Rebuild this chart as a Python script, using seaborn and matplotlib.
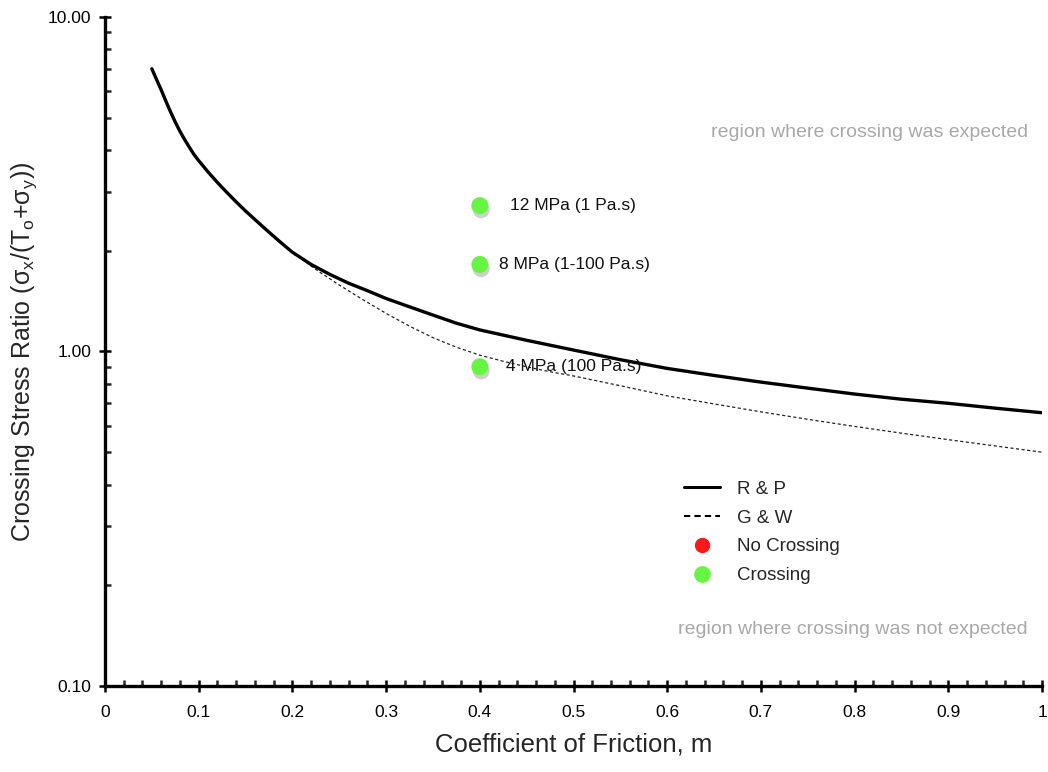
import numpy as np
import pandas as pd
import matplotlib
matplotlib.use("Agg")
import matplotlib.pyplot as plt
import matplotlib.patheffects as pe
from matplotlib.lines import Line2D
from matplotlib.ticker import FixedLocator, FixedFormatter, AutoMinorLocator, LogLocator, NullFormatter
import seaborn as sns

# ---- data ----
rp_mu = [0.05, 0.055, 0.06, 0.065, 0.07, 0.075, 0.08, 0.085, 0.09, 0.095, 0.10,
         0.11, 0.12, 0.13, 0.14, 0.15, 0.16, 0.17, 0.18, 0.19, 0.20,
         0.22, 0.24, 0.26, 0.28, 0.30, 0.325, 0.35, 0.375, 0.40, 0.45, 0.50,
         0.55, 0.60, 0.65, 0.70, 0.75, 0.80, 0.85, 0.90, 0.95, 1.00]
rp_ratio = [7.0, 6.5, 6.05, 5.6, 5.2, 4.85, 4.55, 4.3, 4.08, 3.88, 3.72,
            3.44, 3.2, 2.99, 2.8, 2.63, 2.48, 2.34, 2.21, 2.09, 1.98,
            1.82, 1.70, 1.60, 1.52, 1.44, 1.36, 1.285, 1.215, 1.16, 1.08, 1.01,
            0.945, 0.89, 0.848, 0.81, 0.777, 0.746, 0.72, 0.70, 0.677, 0.656]

gw_mu = [0.20, 0.21, 0.22, 0.23, 0.24, 0.25, 0.275, 0.30, 0.325, 0.35, 0.375,
         0.40, 0.425, 0.45, 0.475, 0.50, 0.55, 0.60, 0.65, 0.70, 0.75,
         0.80, 0.85, 0.90, 0.95, 1.00]
gw_ratio = [1.98, 1.89, 1.80, 1.72, 1.65, 1.58, 1.43, 1.30, 1.19, 1.10, 1.03,
            0.975, 0.935, 0.90, 0.87, 0.845, 0.79, 0.737, 0.697, 0.66, 0.627,
            0.597, 0.57, 0.545, 0.522, 0.50]

pt_mu = [0.4, 0.4, 0.4]
pt_ratio = [2.73, 1.82, 0.90]
pt_labels = ["12 MPa (1 Pa.s)", "8 MPa (1-100 Pa.s)", "4 MPa (100 Pa.s)"]

x_ticks = [0, 0.1, 0.2, 0.3, 0.4, 0.5, 0.6, 0.7, 0.8, 0.9, 1.0]
x_ticklabels = ["0", "0.1", "0.2", "0.3", "0.4", "0.5", "0.6", "0.7", "0.8", "0.9", "1"]
y_ticks = [0.1, 1.0, 10.0]
y_ticklabels = ["0.10", "1.00", "10.00"]

legend_labels = ["R & P", "G & W", "No Crossing", "Crossing"]

# ---- style ----
sns.set_style("ticks")
plt.rcParams["font.family"] = ["Liberation Sans", "DejaVu Sans"]
plt.rcParams["mathtext.fontset"] = "custom"
plt.rcParams["mathtext.rm"] = "Liberation Sans"
plt.rcParams["mathtext.it"] = "Liberation Sans"
plt.rcParams["mathtext.sf"] = "Liberation Sans"

GREEN = "#66f542"
RED = "#ff1a1a"

fig = plt.figure(figsize=(10.48, 7.72), dpi=100)
ax = fig.add_axes([0.1002, 0.1114, 0.8941, 0.8666])

rp = pd.DataFrame({"mu": rp_mu, "ratio": rp_ratio})
gw = pd.DataFrame({"mu": gw_mu, "ratio": gw_ratio})
pts = pd.DataFrame({"mu": pt_mu, "ratio": pt_ratio})

sns.lineplot(data=gw, x="mu", y="ratio", ax=ax, color="#222222", lw=0.9,
             linestyle=(0, (2.5, 2)), zorder=2)
sns.lineplot(data=rp, x="mu", y="ratio", ax=ax, color="black", lw=2.4, zorder=3)
sns.scatterplot(data=pts, x="mu", y="ratio", ax=ax, color=GREEN, s=150,
                edgecolor="none", zorder=5,
                path_effects=[pe.SimplePatchShadow(offset=(1.0, -3.0), shadow_rgbFace="#888888", alpha=0.4),
                              pe.Normal()])

offsets = [0.032, 0.021, 0.028]
for xv, yv, lab, dx in zip(pt_mu, pt_ratio, pt_labels, offsets):
    ax.text(xv + dx, yv, lab, fontsize=12.5, va="center", ha="left", color="#111111", zorder=6)

ax.text(0.985, 0.828, "region where crossing was expected", transform=ax.transAxes,
        ha="right", va="center", fontsize=14, color="#a8a8a8")
ax.text(0.985, 0.084, "region where crossing was not expected", transform=ax.transAxes,
        ha="right", va="center", fontsize=14, color="#a8a8a8")

ax.set_yscale("log")
ax.set_xlim(0, 1.0)
ax.set_ylim(0.1, 10)

ax.xaxis.set_major_locator(FixedLocator(x_ticks))
ax.xaxis.set_major_formatter(FixedFormatter(x_ticklabels))
ax.xaxis.set_minor_locator(AutoMinorLocator(5))
ax.yaxis.set_major_locator(FixedLocator(y_ticks))
ax.yaxis.set_major_formatter(FixedFormatter(y_ticklabels))
ax.yaxis.set_minor_locator(LogLocator(base=10, subs=np.arange(2, 10)))
ax.yaxis.set_minor_formatter(NullFormatter())

ax.tick_params(which="major", direction="inout", length=8, width=1.8, labelsize=12.5, colors="black", pad=6)
ax.tick_params(which="minor", direction="in", length=4, width=1.8)
ax.tick_params(axis="x", which="major", pad=10)

for side in ["top", "right"]:
    ax.spines[side].set_visible(False)
for side in ["left", "bottom"]:
    ax.spines[side].set_linewidth(2.4)
    ax.spines[side].set_color("black")

ax.set_xlabel("Coefficient of Friction, m", fontsize=18.5, labelpad=9)
ax.set_ylabel(r"Crossing Stress Ratio ($\mathregular{\sigma_x}$/(T$\mathregular{_o}$+$\mathregular{\sigma_y}$))",
              fontsize=18, labelpad=6)

handles = [
    Line2D([], [], color="black", lw=2.2),
    Line2D([], [], color="black", lw=1.5, linestyle=(0, (3, 2))),
    Line2D([], [], color=RED, marker="o", linestyle="none", markersize=10),
    Line2D([], [], color=GREEN, marker="o", linestyle="none", markersize=11),
]
leg = ax.legend(handles, legend_labels, loc="upper left", bbox_to_anchor=(0.61, 0.318),
                frameon=False, fontsize=13.5, handlelength=1.9, handletextpad=0.9,
                labelspacing=0.62, borderaxespad=0)

fig.savefig("out.png", dpi=100)
